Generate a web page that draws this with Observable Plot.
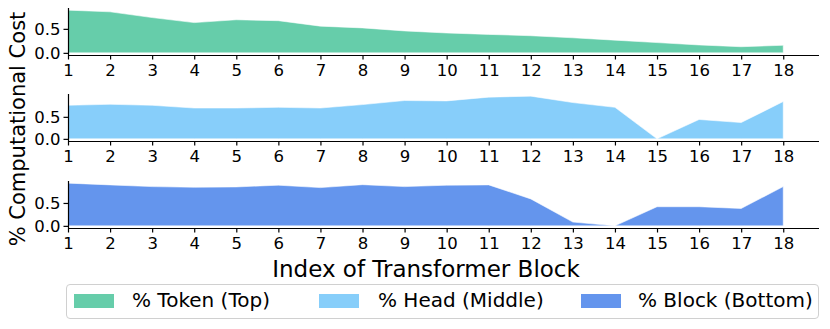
<!DOCTYPE html>
<html>
<head>
<meta charset="utf-8">
<script src="https://cdn.jsdelivr.net/npm/d3@7"></script>
<script src="https://cdn.jsdelivr.net/npm/@observablehq/plot@0.6"></script>
<style>
  html, body { margin: 0; padding: 0; background: white; }
  #wrap { position: relative; width: 830px; height: 329px; font-family: "DejaVu Sans", sans-serif; overflow: hidden; }
  .panel { position: absolute; left: 0; }
  #ylabel { position: absolute; left: 18px; top: 129px; transform: translate(-50%, -50%) rotate(-90deg); font-size: 21px; white-space: nowrap; }
  #xlabel { position: absolute; left: 426px; top: 277px; transform: translate(-50%, -80%); font-size: 23px; white-space: nowrap; }
  #legend { position: absolute; left: 66px; top: 284px; width: 753px; height: 35px; border: 1px solid #d0d0d0; border-radius: 4px; box-sizing: border-box; }
  .sw { position: absolute; top: 9px; width: 40px; height: 14px; }
  .lt { position: absolute; top: 3px; font-size: 20px; white-space: nowrap; line-height: 24px; }
</style>
</head>
<body>
<div id="wrap">
  <div id="p0" class="panel" style="top:0px"></div>
  <div id="p1" class="panel" style="top:86px"></div>
  <div id="p2" class="panel" style="top:173px"></div>
  <div id="ylabel"></div>
  <div id="xlabel"></div>
  <div id="legend"></div>
</div>
<script>
const blocks = [1, 2, 3, 4, 5, 6, 7, 8, 9, 10, 11, 12, 13, 14, 15, 16, 17, 18];
const tokenCost = [0.89, 0.855, 0.735, 0.63, 0.69, 0.67, 0.556, 0.52, 0.457, 0.414, 0.385, 0.357, 0.314, 0.265, 0.214, 0.165, 0.128, 0.158];
const headCost  = [0.762, 0.785, 0.762, 0.70, 0.70, 0.716, 0.70, 0.778, 0.87, 0.862, 0.947, 0.97, 0.824, 0.716, 0.0, 0.44, 0.37, 0.847];
const blockCost = [0.933, 0.895, 0.857, 0.843, 0.85, 0.888, 0.835, 0.90, 0.857, 0.888, 0.895, 0.588, 0.083, 0.0, 0.418, 0.418, 0.38, 0.857];
const seriesNames = ["% Token (Top)", "% Head (Middle)", "% Block (Bottom)"];
const seriesColors = ["#66cdaa", "#87cefa", "#6495ed"];
const yTicks = [0, 0.5];
const xLabel = "Index of Transformer Block";
const yLabel = "% Computational Cost";

const allSeries = [tokenCost, headCost, blockCost];
const xDomain = [1, 18.85];

allSeries.forEach((vals, i) => {
  const rows = blocks.map((b, j) => ({b, v: vals[j]}));
  const mx = d3.max(vals);
  const yDomain = [-0.05 * mx, 1.05 * mx];
  const chart = Plot.plot({
    width: 830, height: 86,
    marginLeft: 68, marginRight: 11, marginTop: 8, marginBottom: 31,
    x: {domain: xDomain},
    y: {domain: yDomain},
    style: {fontFamily: "DejaVu Sans", fontSize: "16.5px", color: "black", background: "white", overflow: "visible"},
    marks: [
      Plot.areaY(rows, {x: "b", y: "v", fill: seriesColors[i], stroke: "white", strokeWidth: 0.8, strokeOpacity: 0.7}),
      Plot.ruleY([yDomain[0]], {stroke: "black", strokeWidth: 1.2}),
      Plot.ruleX([xDomain[0]], {y1: yDomain[0], y2: yDomain[1], stroke: "black", strokeWidth: 1.2}),
      Plot.axisX({ticks: blocks, tickSize: 4.5, tickPadding: 4.5, tickFormat: d => String(d), label: null, strokeWidth: 1.2}),
      Plot.axisY({ticks: yTicks, tickSize: 4.5, tickPadding: 3.5, tickFormat: d => d.toFixed(1), label: null, strokeWidth: 1.2})
    ]
  });
  document.getElementById("p" + i).appendChild(chart);
});

document.getElementById("ylabel").textContent = yLabel;
document.getElementById("xlabel").textContent = xLabel;

const legend = document.getElementById("legend");
const swX = [7, 252, 514];
const txX = [65, 311, 571];
seriesNames.forEach((name, i) => {
  const sw = document.createElement("div");
  sw.className = "sw";
  sw.style.left = swX[i] + "px";
  sw.style.background = seriesColors[i];
  legend.appendChild(sw);
  const t = document.createElement("div");
  t.className = "lt";
  t.style.left = txX[i] + "px";
  t.textContent = name;
  legend.appendChild(t);
});
</script>
</body>
</html>
